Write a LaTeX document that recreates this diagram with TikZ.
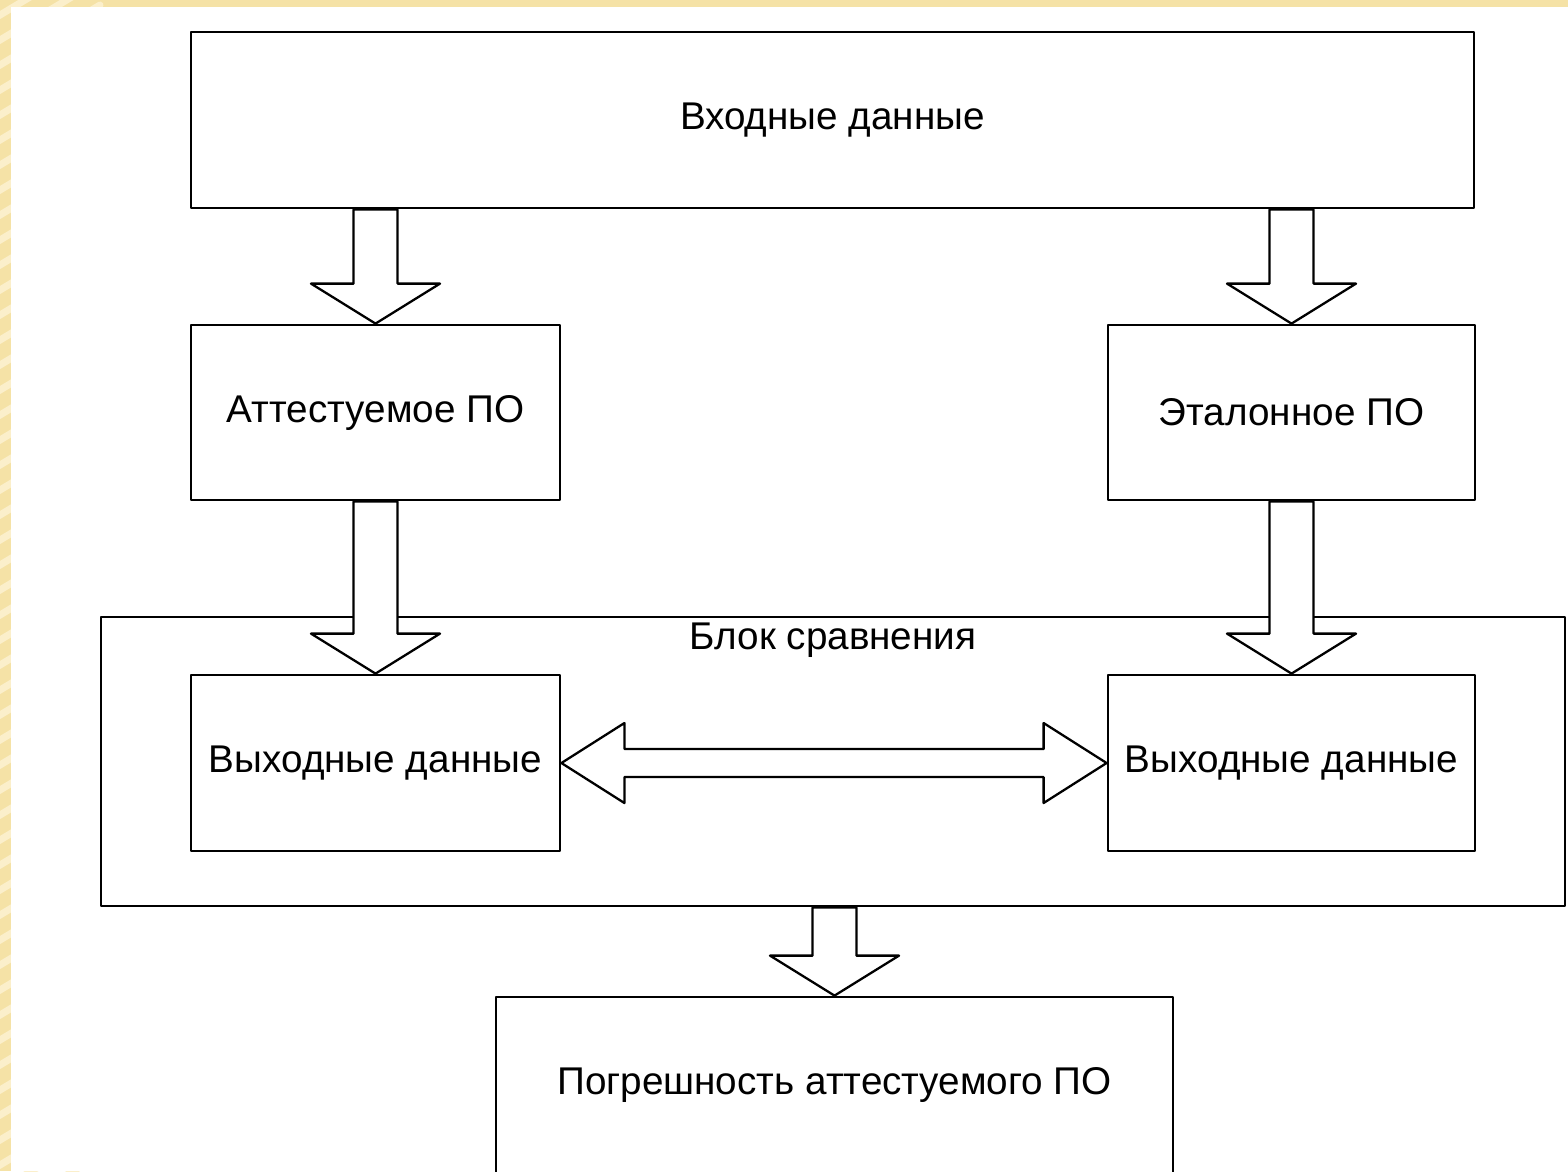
\documentclass[tikz,border=0pt]{standalone}
\usepackage{fontspec}
\setmainfont{Liberation Sans}
\usetikzlibrary{calc,positioning}
\definecolor{slideyellow}{HTML}{F5E2A6}
\definecolor{slidestripe}{HTML}{FBEFCB}
% vertical block arrow: from #1 down to #2
\newcommand{\vblk}[2]{\draw[blk] let \p1=#1, \p2=#2 in
	(\x1-0.22cm,\y1)--(\x1-0.22cm,\y2+0.40cm)--(\x1-0.645cm,\y2+0.40cm)--(\x1,\y2)
	--(\x1+0.645cm,\y2+0.40cm)--(\x1+0.22cm,\y2+0.40cm)--(\x1+0.22cm,\y1)--cycle;}
% horizontal double block arrow between #1 and #2
\newcommand{\hblk}[2]{\draw[blk] let \p1=#1, \p2=#2 in
	(\x1,\y1)--(\x1+0.63cm,\y1+0.40cm)--(\x1+0.63cm,\y1+0.14cm)--(\x2-0.63cm,\y1+0.14cm)
	--(\x2-0.63cm,\y1+0.40cm)--(\x2,\y1)--(\x2-0.63cm,\y1-0.40cm)--(\x2-0.63cm,\y1-0.14cm)
	--(\x1+0.63cm,\y1-0.14cm)--(\x1+0.63cm,\y1-0.40cm)--cycle;}
\begin{document}
\begin{tikzpicture}[line join=round,line cap=round]
	\tikzset{every node/.style={font=\fontsize{11}{13}\selectfont},
		box/.style={draw,line width=0.8pt,fill=white,minimum height=1.76cm,inner sep=0pt},
		blk/.style={draw,line width=0.65pt,fill=white}}
	% slide background
	\fill[slideyellow] (0,0) rectangle (15.68,-11.71);
	\begin{scope}
		\clip (0,0) rectangle (15.68,-11.71);
		\foreach \i in {0,0.25,...,13}
			\draw[slidestripe,line width=2pt] (-1,-\i)--(1,-\i+1.2);
		\fill[white] (0.11,-0.07) rectangle (15.68,-11.71);
	\end{scope}
	\clip (0,0) rectangle (15.68,-11.71);
	\node[box,minimum width=12.83cm] (inp) at (8.325,-1.20) {Входные данные};
	\node[box,minimum width=3.69cm,minimum height=1.75cm] (att) at (3.755,-4.125) {Аттестуемое ПО};
	\node[box,minimum width=3.67cm,minimum height=1.75cm] (etl) at (12.915,-4.125) {Эталонное ПО};
	\node[box,minimum width=14.64cm,minimum height=2.89cm] (cmp) at (8.33,-7.615) {};
	\node (cmplbl) at ($(cmp.north)+(0,-0.25)$) {Блок сравнения};
	\node[box,minimum width=3.69cm] (outA) at (3.755,-7.63) {Выходные данные};
	\node[box,minimum width=3.67cm] (outE) at (12.915,-7.63) {Выходные данные};
	\node[box,minimum width=6.77cm] (err) at (8.345,-10.85) {Погрешность аттестуемого ПО};
	\vblk{(inp.south -| att.north)}{(att.north)}
	\vblk{(inp.south -| etl.north)}{(etl.north)}
	\vblk{(att.south)}{(outA.north)}
	\vblk{(etl.south)}{(outE.north)}
	\vblk{(cmp.south -| err.north)}{(err.north)}
	\hblk{(outA.east)}{(outE.west)}
\end{tikzpicture}
\end{document}
